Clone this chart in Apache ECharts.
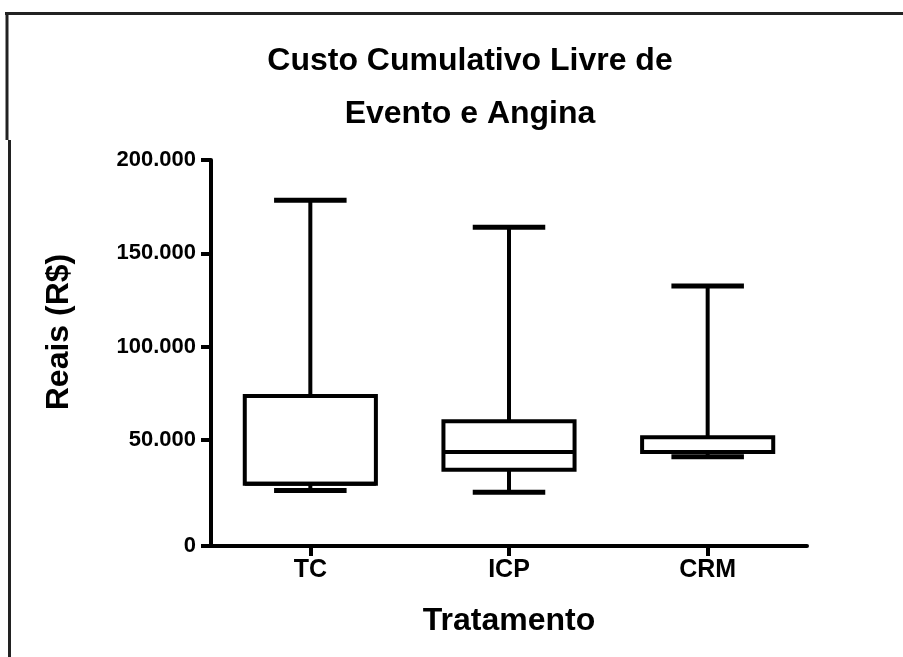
<!DOCTYPE html>
<html>
<head>
<meta charset="utf-8">
<script src="https://cdn.jsdelivr.net/npm/echarts@6/dist/echarts.min.js"></script>
<style>
  html, body { margin: 0; padding: 0; background: #fff; }
  #chart { width: 903px; height: 657px; }
</style>
</head>
<body>
<div id="chart"></div>
<script>
// Box plot data (R$)
var categories = ["TC", "ICP", "CRM"];
var whiskerMin = [23000, 22000, 41000];
var q1 = [26500, 34000, 43500];
var median = [26500, 43500, 43500];
var q3 = [73500, 60000, 51500];
var whiskerMax = [178500, 164000, 132500];

// y tick values; the "0" tick sits a little below value 0 (Prism-style offset axis)
var yTicks = [-6800, 50000, 100000, 150000, 200000];

var FONT = "'Liberation Sans', Arial, sans-serif";

function fmtReais(v) {
  if (v <= 0) return "0";
  return String(v).replace(/\B(?=(\d{3})+(?!\d))/g, ".");
}

var chart = echarts.init(document.getElementById("chart"), null, { renderer: "canvas" });

var boxData = categories.map(function (c, i) {
  return [i, whiskerMin[i], q1[i], median[i], q3[i], whiskerMax[i]];
});

var stroke = { stroke: "#000", lineWidth: 4 };
var capStroke = { stroke: "#000", lineWidth: 5 };

function renderBox(params, api) {
  var i = api.value(0);
  var band = api.size([1, 0])[0];
  var cx = api.coord([i, 0])[0];
  var boxW = band * 0.66;
  var capW = band * 0.365;
  var yMin = api.coord([i, api.value(1)])[1];
  var yQ1 = api.coord([i, api.value(2)])[1];
  var yMed = api.coord([i, api.value(3)])[1];
  var yQ3 = api.coord([i, api.value(4)])[1];
  var yMax = api.coord([i, api.value(5)])[1];
  return {
    type: "group",
    children: [
      { type: "line", shape: { x1: cx, y1: yMax, x2: cx, y2: yQ3 }, style: stroke },
      { type: "line", shape: { x1: cx, y1: yQ1, x2: cx, y2: yMin }, style: stroke },
      { type: "line", shape: { x1: cx - capW / 2, y1: yMax, x2: cx + capW / 2, y2: yMax }, style: capStroke },
      { type: "line", shape: { x1: cx - capW / 2, y1: yMin, x2: cx + capW / 2, y2: yMin }, style: capStroke },
      {
        type: "rect",
        shape: { x: cx - boxW / 2, y: yQ3, width: boxW, height: yQ1 - yQ3 },
        style: { fill: "#fff", stroke: "#000", lineWidth: 4 }
      },
      { type: "line", shape: { x1: cx - boxW / 2, y1: yMed, x2: cx + boxW / 2, y2: yMed }, style: stroke }
    ]
  };
}

var option = {
  backgroundColor: "#fff",
  animation: false,
  title: {
    text: "Custo Cumulativo Livre de\nEvento e Angina",
    left: 465,
    top: 30,
    textAlign: "center",
    textStyle: {
      fontFamily: FONT,
      fontSize: 32,
      fontWeight: "bold",
      color: "#000",
      lineHeight: 53
    }
  },
  grid: {
    left: 211,
    right: 96,
    top: 160,
    bottom: 111
  },
  xAxis: {
    type: "category",
    data: categories,
    name: "Tratamento",
    nameLocation: "middle",
    nameGap: 59,
    nameTextStyle: { fontFamily: FONT, fontSize: 32, fontWeight: "bold", color: "#000" },
    axisLine: { onZero: false, lineStyle: { color: "#000", width: 4 } },
    axisTick: { show: true, alignWithLabel: true, length: 10, lineStyle: { color: "#000", width: 4 } },
    axisLabel: { fontFamily: FONT, fontSize: 25, fontWeight: "bold", color: "#000", margin: 12 },
    splitLine: { show: false }
  },
  yAxis: {
    type: "value",
    min: yTicks[0],
    max: yTicks[yTicks.length - 1],
    name: "Reais (R$)",
    nameLocation: "middle",
    nameGap: 136,
    nameTextStyle: {
      fontFamily: FONT, fontSize: 32, fontWeight: "bold", color: "#000",
      padding: [0, 0, 0, 42]
    },
    axisLine: { show: true, lineStyle: { color: "#000", width: 4 } },
    axisTick: {
      show: true, length: 10, customValues: yTicks,
      lineStyle: { color: "#000", width: 4 }
    },
    axisLabel: {
      fontFamily: FONT, fontSize: 22, fontWeight: "bold", color: "#000", margin: 15,
      customValues: yTicks,
      formatter: fmtReais
    },
    splitLine: { show: false }
  },
  graphic: [
    { type: "line", shape: { x1: 5, y1: 13.5, x2: 903, y2: 13.5 }, style: { stroke: "#222", lineWidth: 3 } },
    { type: "line", shape: { x1: 7, y1: 12, x2: 7, y2: 140 }, style: { stroke: "#222", lineWidth: 3 } },
    { type: "line", shape: { x1: 9.5, y1: 140, x2: 9.5, y2: 657 }, style: { stroke: "#222", lineWidth: 3 } }
  ],
  series: [
    {
      type: "custom",
      renderItem: renderBox,
      encode: { x: 0, y: [1, 2, 3, 4, 5] },
      data: boxData
    }
  ]
};

chart.setOption(option);
</script>
</body>
</html>
